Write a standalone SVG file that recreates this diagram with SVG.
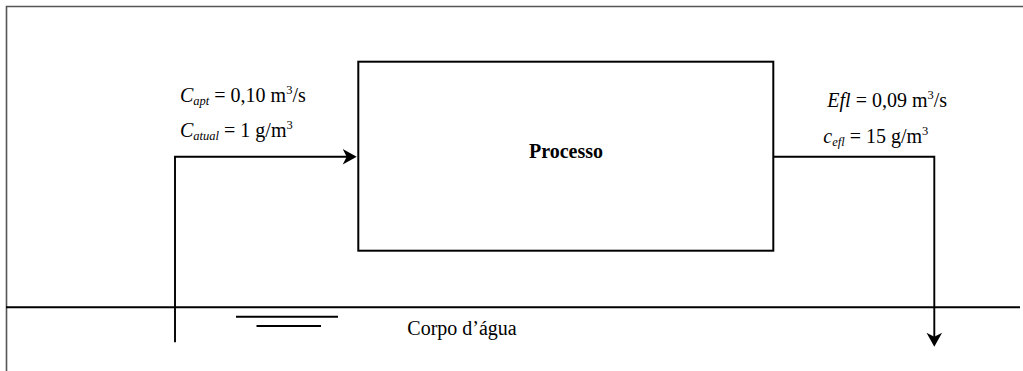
<svg xmlns="http://www.w3.org/2000/svg" width="1023" height="371" viewBox="0 0 1023 371">
<style>
text{font-family:"Liberation Serif","Times New Roman",serif;font-size:20px;fill:#000}
.it{font-style:italic}
.sub{font-size:12.5px;font-style:italic}
.sup{font-size:12.5px}
.ln{fill:none;stroke:#000;stroke-width:1.9}
.frame{fill:none;stroke:#555;stroke-width:1.6}
</style>
<defs>
<marker id="ah" viewBox="-16 -9 20 18" markerWidth="20" markerHeight="18" refX="0" refY="0" orient="auto" markerUnits="userSpaceOnUse">
<path d="M3,0 L-11,-7.8 L-7,0 L-11,7.8 Z" fill="#000"/>
</marker>
</defs>
<path class="frame" d="M6.5,371 L6.5,6.5 L1023,6.5"/>
<g id="ground">
<line class="ln" x1="6" y1="307.3" x2="1020" y2="307.3"/>
<line class="ln" x1="236" y1="316.7" x2="338" y2="316.7"/>
<line class="ln" x1="256.5" y1="326" x2="321" y2="326"/>
<text x="407.3" y="335">Corpo d’água</text>
</g>
<g id="processo">
<rect x="358.3" y="61.7" width="415" height="189" fill="#fff" stroke="#000" stroke-width="2"/>
<text x="566" y="158" text-anchor="middle" font-weight="bold">Processo</text>
</g>
<g id="connectors">
<path class="ln" d="M175,342.3 L175,156.7 L353.7,156.7" marker-end="url(#ah)"/>
<path class="ln" d="M773.3,156.7 L934.3,156.7 L934.3,343.7" marker-end="url(#ah)"/>
</g>
<g id="labels-in">
<text x="180" y="102.3"><tspan class="it">C</tspan><tspan class="sub" dy="3">apt</tspan><tspan dy="-3"> = 0,10 m</tspan><tspan class="sup" dy="-8">3</tspan><tspan dy="8">/s</tspan></text>
<text x="180" y="136.7"><tspan class="it">C</tspan><tspan class="sub" dy="3">atual</tspan><tspan dy="-3"> = 1 g/m</tspan><tspan class="sup" dy="-8">3</tspan></text>
</g>
<g id="labels-out">
<text x="827.3" y="106.7"><tspan class="it">Efl</tspan><tspan> = 0,09 m</tspan><tspan class="sup" dy="-8">3</tspan><tspan dy="8">/s</tspan></text>
<text x="823.3" y="142.7"><tspan class="it">c</tspan><tspan class="sub" dy="3">efl</tspan><tspan dy="-3"> = 15 g/m</tspan><tspan class="sup" dy="-8">3</tspan></text>
</g>
</svg>
